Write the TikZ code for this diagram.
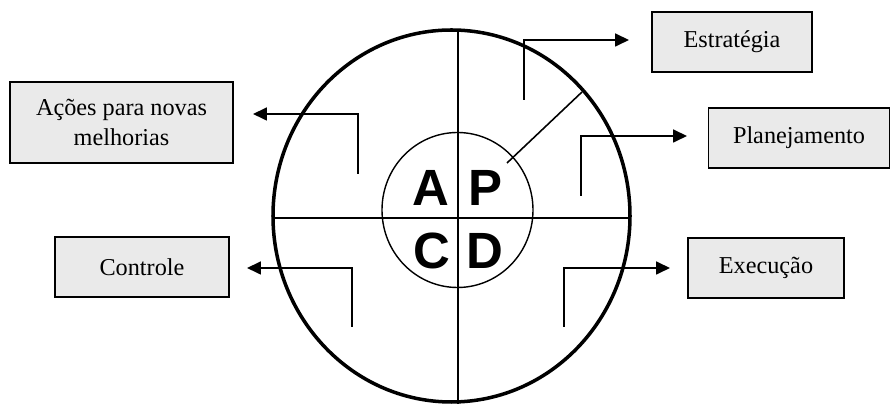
\documentclass[tikz,border=0pt]{standalone}
\usepackage{fontspec}
\setmainfont{Liberation Serif}
\newfontfamily\letterfont{Liberation Sans}
\usepackage{tikz}
\usetikzlibrary{positioning,calc,arrows.meta}
\usepackage{xcolor}
\definecolor{boxgray}{RGB}{234,234,234}

\begin{document}
\begin{tikzpicture}[
    x=0.02cm, y=-0.02cm,
    box/.style={rectangle, draw=black, fill=boxgray, line width=1.1pt,
                minimum height=1.2cm, align=center,
                font=\fontsize{13.8}{17}\selectfont, inner sep=2pt},
    letter/.style={font=\letterfont\bfseries\fontsize{29}{30}\selectfont, inner sep=0pt},
    arrow/.style={-{Triangle[length=0.28cm, width=0.26cm]}, line width=1pt},
    axis/.style={line width=1.6pt}
]
\useasboundingbox (0,0) rectangle (890,404);

% ciclo
\draw[line width=2pt] (451.5,216) ellipse [x radius=178.5, y radius=186];
\draw[line width=0.8pt] (457.5,210) ellipse [x radius=75.5, y radius=77.5];
\coordinate (top) at (458,30);
\coordinate (bottom) at (458,406);
\coordinate (left) at (273,218);
\coordinate (right) at (630,218);
\draw[axis] (top) -- (bottom);
\draw[axis] (left) -- (right);

\node[letter] (A) at (431,188) {A};
\node[letter] (P) at (485,188) {P};
\node[letter] (C) at (432,251) {C};
\node[letter] (D) at (485,251) {D};

% caixas
\node[box, minimum width=4.46cm, minimum height=1.62cm] (acoes) at (121.5,122.5)
    {Ações para novas\\melhorias};
\node[box, minimum width=3.2cm] (estrategia) at (732,42) {Estratégia};
\node[box, minimum width=3.62cm] (planejamento) at (799,138) {Planejamento};
\node[box, minimum width=3.48cm] (controle) at (142,267) {Controle};
\node[box, minimum width=3.12cm] (execucao) at (766,268) {Execução};

% setas
\coordinate (sAcoes) at (358,174);
\coordinate (tAcoes) at (253,114);
\coordinate (sEstr) at (524,100);
\coordinate (tEstr) at (629,40);
\coordinate (sPlan) at (581,196);
\coordinate (tPlan) at (687,136);
\coordinate (sCtrl) at (352,327);
\coordinate (tCtrl) at (247,268);
\coordinate (sExec) at (564,327);
\coordinate (tExec) at (670,268);
\coordinate (dIn) at (507,163);
\coordinate (dOut) at (582,92);

\draw[arrow] (sAcoes) |- (tAcoes);
\draw[arrow] (sEstr) |- (tEstr);
\draw[arrow] (sPlan) |- (tPlan);
\draw[arrow] (sCtrl) |- (tCtrl);
\draw[arrow] (sExec) |- (tExec);
\draw[line width=0.9pt] (dIn) -- (dOut);

\end{tikzpicture}
\end{document}
